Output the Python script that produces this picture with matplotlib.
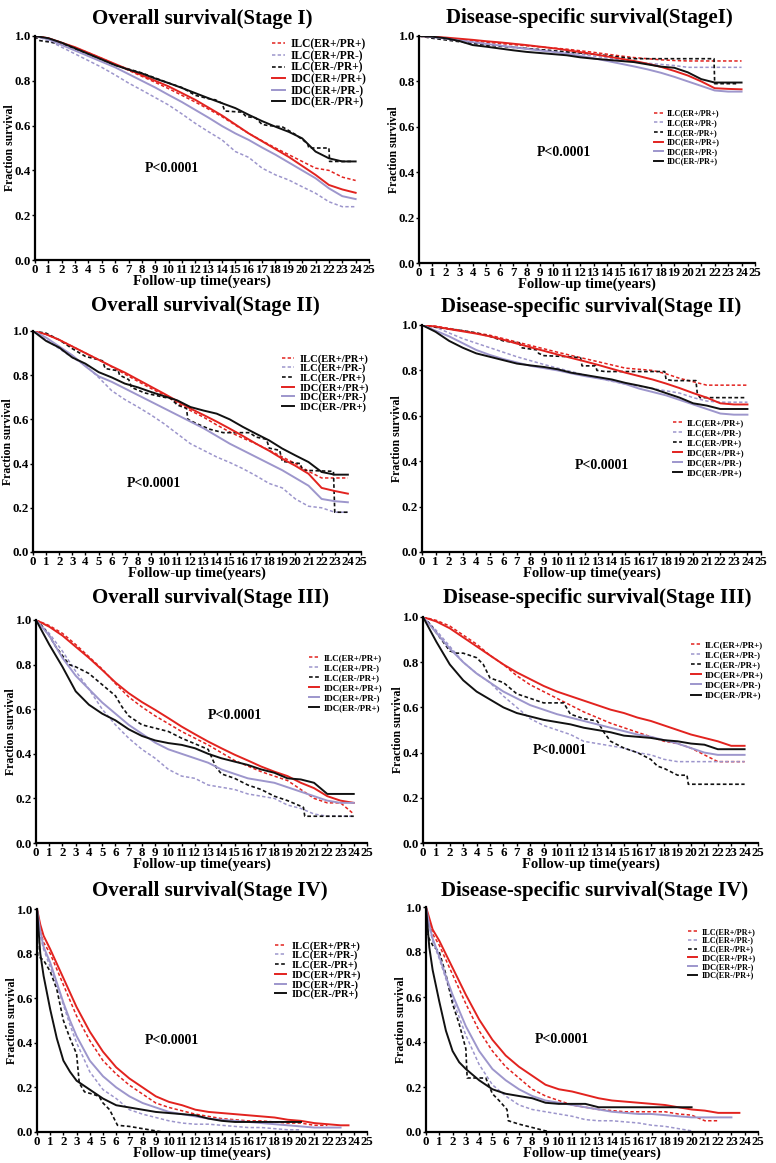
import numpy as np
import matplotlib
matplotlib.use("Agg")
import matplotlib.pyplot as plt

nan = np.nan

# ---- data ----
labels = ["ILC(ER+/PR+)", "ILC(ER+/PR-)", "ILC(ER-/PR+)",
          "IDC(ER+/PR+)", "IDC(ER+/PR-)", "IDC(ER-/PR+)"]
titles = ["Overall survival(Stage I)", "Disease-specific survival(StageI)",
          "Overall survival(Stage II)", "Disease-specific survival(Stage II)",
          "Overall survival(Stage III)", "Disease-specific survival(Stage III)",
          "Overall survival(Stage IV)", "Disease-specific survival(Stage IV)"]
years = list(range(25))
years_iv = [0, 0.25, 0.5, 1, 1.5, 2, 2.5, 3, 4, 5, 6, 7, 8, 9, 10, 11, 12,
            13, 14, 15, 16, 17, 18, 19, 20, 21, 22, 23, 23.6]

# Overall survival, stage I
os1_ilc_pp = [1.0, 0.99, 0.97, 0.948, 0.925, 0.90, 0.873, 0.847, 0.82, 0.793, 0.765, 0.735, 0.705,
              0.673, 0.64, 0.602, 0.565, 0.532, 0.50, 0.47, 0.44, 0.41, 0.40, 0.37, 0.355]
os1_ilc_pn = [1.0, 0.98, 0.95, 0.92, 0.89, 0.86, 0.826, 0.79, 0.758, 0.725, 0.692, 0.652, 0.61,
              0.572, 0.536, 0.484, 0.458, 0.41, 0.38, 0.357, 0.327, 0.298, 0.26, 0.238, 0.238]
os1_ilc_np_t = [0, 0.3, 2, 4, 6, 8, 10, 11, 12, 13, 13.5, 14, 14.2, 15.5, 15.8, 16.5, 17, 17.5,
                18.5, 19.5, 20.4, 20.5, 22, 22.05, 23.8]
os1_ilc_np = [1.0, 0.98, 0.965, 0.92, 0.87, 0.835, 0.79, 0.77, 0.735, 0.72, 0.715, 0.70, 0.665,
              0.66, 0.64, 0.635, 0.605, 0.60, 0.595, 0.56, 0.52, 0.50, 0.50, 0.44, 0.44]
os1_idc_pp = [1.0, 0.99, 0.97, 0.95, 0.925, 0.90, 0.875, 0.85, 0.825, 0.80, 0.775, 0.745, 0.715,
              0.68, 0.645, 0.605, 0.565, 0.53, 0.495, 0.46, 0.42, 0.38, 0.335, 0.315, 0.30]
os1_idc_pn = [1.0, 0.985, 0.96, 0.935, 0.91, 0.885, 0.86, 0.83, 0.80, 0.77, 0.737, 0.705, 0.67,
              0.635, 0.598, 0.565, 0.536, 0.502, 0.47, 0.435, 0.40, 0.365, 0.32, 0.285, 0.272]
os1_idc_np = [1.0, 0.99, 0.97, 0.945, 0.92, 0.895, 0.87, 0.85, 0.833, 0.81, 0.79, 0.768, 0.745,
              0.722, 0.70, 0.678, 0.648, 0.62, 0.595, 0.572, 0.543, 0.484, 0.454, 0.44, 0.44]

# Disease-specific survival, stage I
dss1_ilc_pp = [1.0, 0.997, 0.99, 0.985, 0.978, 0.972, 0.967, 0.962, 0.957, 0.952, 0.947, 0.942,
               0.935, 0.928, 0.92, 0.912, 0.905, 0.90, 0.895, 0.892, 0.89, 0.89, 0.89, 0.89, 0.89]
dss1_ilc_pn = [1.0, 0.995, 0.99, 0.98, 0.973, 0.966, 0.96, 0.953, 0.946, 0.94, 0.935, 0.928, 0.92,
               0.912, 0.903, 0.895, 0.887, 0.88, 0.875, 0.87, 0.862, 0.862, 0.862, 0.862, 0.862]
dss1_ilc_np_t = [0, 1, 3, 5, 7, 9, 11, 13, 14.5, 16, 21.95, 22, 23.6]
dss1_ilc_np = [1.0, 0.99, 0.975, 0.96, 0.95, 0.94, 0.93, 0.92, 0.91, 0.90, 0.90, 0.79, 0.79]
dss1_idc_pp = [1.0, 0.997, 0.993, 0.988, 0.983, 0.977, 0.972, 0.966, 0.96, 0.953, 0.946, 0.938,
               0.929, 0.92, 0.91, 0.90, 0.89, 0.878, 0.864, 0.846, 0.826, 0.80, 0.77, 0.767, 0.765]
dss1_idc_pn = [1.0, 0.995, 0.988, 0.98, 0.973, 0.965, 0.958, 0.95, 0.943, 0.936, 0.93, 0.922,
               0.912, 0.902, 0.89, 0.878, 0.866, 0.853, 0.838, 0.82, 0.80, 0.78, 0.76, 0.755, 0.755]
dss1_idc_np = [1.0, 0.997, 0.99, 0.978, 0.96, 0.953, 0.945, 0.937, 0.93, 0.925, 0.92, 0.915,
               0.906, 0.90, 0.895, 0.89, 0.885, 0.875, 0.865, 0.86, 0.84, 0.81, 0.795, 0.795, 0.795]

# Overall survival, stage II
os2_ilc_pp = [1.0, 0.985, 0.96, 0.93, 0.90, 0.87, 0.838, 0.805, 0.772, 0.74, 0.71, 0.675, 0.64,
              0.61, 0.575, 0.543, 0.515, 0.49, 0.46, 0.43, 0.40, 0.365, 0.335, 0.335, 0.335]
os2_ilc_pn = [1.0, 0.96, 0.92, 0.88, 0.845, 0.79, 0.73, 0.69, 0.656, 0.62, 0.58, 0.535, 0.49,
              0.46, 0.43, 0.405, 0.377, 0.345, 0.31, 0.29, 0.24, 0.207, 0.20, 0.18, 0.18]
os2_ilc_np_t = [0, 1, 2, 3, 4, 5, 5.3, 5.5, 6.5, 6.6, 7.3, 7.5, 8.5, 10, 10.5, 11, 11.7, 11.8,
                12.5, 13.5, 14.5, 16.5, 17, 17.8, 18, 18.8, 19, 20.4, 20.5, 22.9, 23, 24]
os2_ilc_np = [1.0, 0.99, 0.96, 0.92, 0.885, 0.87, 0.865, 0.83, 0.82, 0.80, 0.78, 0.745, 0.72,
              0.70, 0.695, 0.665, 0.65, 0.60, 0.58, 0.555, 0.54, 0.54, 0.52, 0.51, 0.47, 0.46,
              0.41, 0.40, 0.37, 0.365, 0.18, 0.18]
os2_idc_pp = [1.0, 0.985, 0.96, 0.93, 0.90, 0.87, 0.84, 0.812, 0.78, 0.748, 0.716, 0.683, 0.649,
              0.62, 0.59, 0.558, 0.525, 0.49, 0.458, 0.422, 0.39, 0.354, 0.29, 0.276, 0.264]
os2_idc_pn = [1.0, 0.97, 0.93, 0.89, 0.84, 0.795, 0.77, 0.74, 0.71, 0.68, 0.65, 0.62, 0.59,
              0.56, 0.525, 0.49, 0.46, 0.43, 0.40, 0.37, 0.335, 0.30, 0.24, 0.23, 0.225]
os2_idc_np = [1.0, 0.955, 0.925, 0.88, 0.852, 0.814, 0.79, 0.762, 0.745, 0.724, 0.705, 0.686,
              0.656, 0.64, 0.626, 0.60, 0.566, 0.535, 0.505, 0.468, 0.437, 0.407, 0.362, 0.35, 0.35]

# Disease-specific survival, stage II
dss2_ilc_pp = [1.0, 0.995, 0.985, 0.975, 0.965, 0.955, 0.94, 0.925, 0.91, 0.895, 0.88, 0.866,
               0.852, 0.838, 0.824, 0.81, 0.805, 0.80, 0.785, 0.765, 0.75, 0.735, 0.735, 0.735, 0.735]
dss2_ilc_pn = [1.0, 0.99, 0.965, 0.94, 0.92, 0.90, 0.88, 0.86, 0.843, 0.826, 0.81, 0.795, 0.78,
               0.765, 0.752, 0.74, 0.73, 0.72, 0.71, 0.70, 0.68, 0.665, 0.66, 0.66, 0.66]
dss2_ilc_np_t = [0, 1, 3, 4, 5, 6, 7.2, 7.3, 8.5, 8.6, 9, 11, 11.7, 11.8, 12.8, 12.9, 13.5, 17.9,
                 18, 18.5, 20.2, 20.3, 20.5, 23.9]
dss2_ilc_np = [1.0, 0.99, 0.975, 0.965, 0.95, 0.93, 0.92, 0.90, 0.89, 0.875, 0.865, 0.86, 0.855,
               0.82, 0.82, 0.80, 0.795, 0.795, 0.76, 0.755, 0.755, 0.70, 0.68, 0.68]
dss2_idc_pp = [1.0, 0.993, 0.982, 0.972, 0.962, 0.95, 0.935, 0.918, 0.902, 0.886, 0.87, 0.855,
               0.84, 0.824, 0.807, 0.79, 0.775, 0.76, 0.742, 0.722, 0.70, 0.68, 0.655, 0.65, 0.65]
dss2_idc_pn = [1.0, 0.975, 0.95, 0.92, 0.89, 0.868, 0.85, 0.835, 0.82, 0.81, 0.80, 0.787, 0.775,
               0.765, 0.755, 0.74, 0.72, 0.705, 0.69, 0.67, 0.65, 0.63, 0.61, 0.605, 0.605]
dss2_idc_np = [1.0, 0.97, 0.93, 0.90, 0.875, 0.86, 0.845, 0.83, 0.822, 0.815, 0.805, 0.79, 0.78,
               0.77, 0.76, 0.745, 0.733, 0.72, 0.70, 0.68, 0.655, 0.645, 0.63, 0.63, 0.63]

# Overall survival, stage III
os3_ilc_pp = [1.0, 0.975, 0.94, 0.89, 0.835, 0.78, 0.715, 0.655, 0.61, 0.57, 0.535, 0.50, 0.47,
              0.44, 0.405, 0.37, 0.345, 0.32, 0.30, 0.28, 0.24, 0.20, 0.18, 0.18, 0.13]
os3_ilc_pn = [1.0, 0.94, 0.86, 0.77, 0.69, 0.60, 0.53, 0.47, 0.42, 0.38, 0.33, 0.30, 0.29, 0.26,
              0.25, 0.24, 0.22, 0.21, 0.20, 0.17, 0.155, 0.13, 0.12, 0.12, 0.12]
os3_ilc_np_t = [0, 0.5, 1, 1.5, 2, 2.5, 3, 4, 5, 6, 6.5, 7, 8, 9, 10, 11, 12, 13, 13.3, 13.6, 14,
                15, 16, 17, 18, 19, 20.2, 20.3, 24]
os3_ilc_np = [1.0, 0.97, 0.93, 0.88, 0.84, 0.80, 0.79, 0.76, 0.71, 0.66, 0.61, 0.57, 0.53, 0.515,
              0.50, 0.47, 0.445, 0.42, 0.38, 0.34, 0.31, 0.29, 0.26, 0.24, 0.21, 0.19, 0.16, 0.12, 0.12]
os3_idc_pp = [1.0, 0.97, 0.93, 0.88, 0.83, 0.776, 0.72, 0.672, 0.632, 0.597, 0.56, 0.522, 0.488,
              0.455, 0.425, 0.396, 0.37, 0.343, 0.32, 0.30, 0.27, 0.246, 0.21, 0.19, 0.18]
os3_idc_pn = [1.0, 0.93, 0.83, 0.75, 0.69, 0.63, 0.58, 0.53, 0.49, 0.45, 0.42, 0.40, 0.38, 0.36,
              0.33, 0.31, 0.29, 0.28, 0.27, 0.25, 0.23, 0.21, 0.19, 0.18, 0.18]
os3_idc_np = [1.0, 0.89, 0.79, 0.68, 0.62, 0.58, 0.55, 0.51, 0.48, 0.46, 0.448, 0.44, 0.425,
              0.40, 0.38, 0.365, 0.35, 0.33, 0.315, 0.29, 0.285, 0.27, 0.22, 0.22, 0.22]

# Disease-specific survival, stage III
dss3_ilc_pp = [1.0, 0.985, 0.96, 0.92, 0.88, 0.83, 0.79, 0.74, 0.70, 0.67, 0.64, 0.61, 0.58,
               0.555, 0.53, 0.51, 0.49, 0.47, 0.45, 0.44, 0.42, 0.39, 0.36, 0.36, 0.36]
dss3_ilc_pn = [1.0, 0.94, 0.87, 0.80, 0.75, 0.71, 0.65, 0.60, 0.55, 0.52, 0.50, 0.48, 0.45, 0.44,
               0.43, 0.42, 0.40, 0.39, 0.37, 0.36, 0.36, 0.36, 0.36, 0.36, 0.36]
dss3_ilc_np_t = [0, 0.5, 1, 1.5, 2, 2.5, 3, 4, 4.5, 5, 6, 7, 8, 9, 10.5, 11, 12, 13, 13.5, 14,
                 15, 16, 17, 17.5, 18, 19, 19.7, 19.8, 24]
dss3_ilc_np = [1.0, 0.97, 0.93, 0.89, 0.85, 0.84, 0.84, 0.82, 0.79, 0.73, 0.71, 0.66, 0.64, 0.62,
               0.62, 0.57, 0.55, 0.54, 0.49, 0.45, 0.42, 0.40, 0.37, 0.34, 0.33, 0.30, 0.30, 0.26, 0.26]
dss3_idc_pp = [1.0, 0.98, 0.95, 0.91, 0.87, 0.83, 0.79, 0.755, 0.725, 0.695, 0.67, 0.65, 0.63,
               0.61, 0.59, 0.575, 0.555, 0.54, 0.52, 0.50, 0.48, 0.465, 0.45, 0.43, 0.43]
dss3_idc_pn = [1.0, 0.93, 0.86, 0.80, 0.75, 0.71, 0.67, 0.64, 0.61, 0.59, 0.57, 0.555, 0.54,
               0.525, 0.51, 0.495, 0.48, 0.47, 0.455, 0.44, 0.42, 0.40, 0.39, 0.39, 0.39]
dss3_idc_np = [1.0, 0.89, 0.79, 0.72, 0.67, 0.635, 0.60, 0.575, 0.56, 0.545, 0.535, 0.525, 0.51,
               0.50, 0.49, 0.475, 0.47, 0.465, 0.455, 0.45, 0.44, 0.435, 0.415, 0.415, 0.415]

# Overall survival, stage IV (on years_iv)
os4_ilc_pp = [1.0, 0.90, 0.85, 0.80, 0.73, 0.66, 0.59, 0.52, 0.41, 0.32, 0.26, 0.21, 0.17, 0.13,
              0.11, 0.095, 0.08, 0.07, 0.06, 0.055, 0.05, 0.05, 0.045, 0.04, 0.04, 0.03, 0.03, nan, nan]
os4_ilc_pn = [1.0, 0.88, 0.82, 0.74, 0.66, 0.57, 0.48, 0.40, 0.27, 0.19, 0.15, 0.10, 0.08, 0.065,
              0.05, 0.04, 0.035, 0.035, 0.03, 0.025, 0.02, 0.02, 0.015, 0.01, 0.01, nan, nan, nan, nan]
os4_ilc_np_t = [0, 0.05, 0.5, 1, 1.5, 2, 2.5, 3, 3.2, 3.6, 4.2, 4.7, 5, 5.5, 6.1, 7, 8, 9, 9.5]
os4_ilc_np = [1.0, 0.79, 0.77, 0.72, 0.64, 0.50, 0.42, 0.35, 0.22, 0.18, 0.17, 0.16, 0.13, 0.10,
              0.03, 0.025, 0.015, 0.005, 0.0]
os4_idc_pp = [1.0, 0.93, 0.88, 0.82, 0.755, 0.69, 0.625, 0.56, 0.45, 0.36, 0.29, 0.24, 0.20, 0.16,
              0.135, 0.12, 0.10, 0.09, 0.085, 0.08, 0.075, 0.07, 0.065, 0.055, 0.05, 0.04, 0.035, 0.03, 0.03]
os4_idc_pn = [1.0, 0.90, 0.83, 0.76, 0.67, 0.58, 0.50, 0.43, 0.32, 0.25, 0.20, 0.16, 0.13, 0.11,
              0.09, 0.08, 0.07, 0.06, 0.055, 0.05, 0.045, 0.04, 0.035, 0.03, 0.025, 0.02, 0.02, 0.02, nan]
os4_idc_np = [1.0, 0.80, 0.70, 0.55, 0.42, 0.32, 0.27, 0.23, 0.19, 0.15, 0.12, 0.11, 0.10, 0.09,
              0.085, 0.08, 0.075, 0.06, 0.05, 0.045, 0.045, 0.045, 0.045, 0.045, 0.045, nan, nan, nan, nan]

# Disease-specific survival, stage IV (on years_iv)
dss4_ilc_pp = [1.0, 0.93, 0.88, 0.83, 0.765, 0.70, 0.635, 0.57, 0.45, 0.36, 0.29, 0.24, 0.19, 0.16,
               0.14, 0.12, 0.11, 0.10, 0.095, 0.09, 0.09, 0.09, 0.09, 0.08, 0.075, 0.05, 0.05, nan, nan]
dss4_ilc_pn = [1.0, 0.91, 0.85, 0.77, 0.68, 0.59, 0.51, 0.43, 0.30, 0.21, 0.16, 0.12, 0.10, 0.09,
               0.08, 0.07, 0.055, 0.05, 0.05, 0.045, 0.04, 0.03, 0.025, 0.015, 0.005, nan, nan, nan, nan]
dss4_ilc_np_t = [0, 0.05, 0.5, 1, 1.5, 2, 2.5, 3, 3.1, 4.5, 5, 5.5, 6.1, 6.2, 7, 8, 9, 9.3]
dss4_ilc_np = [1.0, 0.88, 0.83, 0.80, 0.70, 0.57, 0.48, 0.37, 0.24, 0.24, 0.17, 0.14, 0.10, 0.05,
               0.035, 0.02, 0.005, 0.0]
dss4_idc_pp = [1.0, 0.95, 0.90, 0.85, 0.79, 0.73, 0.67, 0.61, 0.50, 0.41, 0.34, 0.29, 0.25, 0.21,
               0.19, 0.18, 0.165, 0.15, 0.14, 0.135, 0.13, 0.125, 0.12, 0.11, 0.10, 0.095, 0.085, 0.085, 0.085]
dss4_idc_pn = [1.0, 0.92, 0.86, 0.78, 0.69, 0.61, 0.54, 0.47, 0.36, 0.28, 0.23, 0.19, 0.16, 0.14,
               0.13, 0.12, 0.11, 0.10, 0.09, 0.085, 0.08, 0.08, 0.075, 0.07, 0.065, 0.065, 0.065, 0.065, nan]
dss4_idc_np = [1.0, 0.82, 0.72, 0.58, 0.45, 0.36, 0.31, 0.28, 0.23, 0.19, 0.17, 0.16, 0.15, 0.13,
               0.125, 0.125, 0.125, 0.11, 0.11, 0.11, 0.11, 0.11, 0.11, 0.11, 0.11, nan, nan, nan, nan]

panel_data = [
    (years, [os1_ilc_pp, os1_ilc_pn, (os1_ilc_np_t, os1_ilc_np), os1_idc_pp, os1_idc_pn, os1_idc_np]),
    (years, [dss1_ilc_pp, dss1_ilc_pn, (dss1_ilc_np_t, dss1_ilc_np), dss1_idc_pp, dss1_idc_pn, dss1_idc_np]),
    (years, [os2_ilc_pp, os2_ilc_pn, (os2_ilc_np_t, os2_ilc_np), os2_idc_pp, os2_idc_pn, os2_idc_np]),
    (years, [dss2_ilc_pp, dss2_ilc_pn, (dss2_ilc_np_t, dss2_ilc_np), dss2_idc_pp, dss2_idc_pn, dss2_idc_np]),
    (years, [os3_ilc_pp, os3_ilc_pn, (os3_ilc_np_t, os3_ilc_np), os3_idc_pp, os3_idc_pn, os3_idc_np]),
    (years, [dss3_ilc_pp, dss3_ilc_pn, (dss3_ilc_np_t, dss3_ilc_np), dss3_idc_pp, dss3_idc_pn, dss3_idc_np]),
    (years_iv, [os4_ilc_pp, os4_ilc_pn, (os4_ilc_np_t, os4_ilc_np), os4_idc_pp, os4_idc_pn, os4_idc_np]),
    (years_iv, [dss4_ilc_pp, dss4_ilc_pn, (dss4_ilc_np_t, dss4_ilc_np), dss4_idc_pp, dss4_idc_pn, dss4_idc_np]),
]

# ---- layout (pixels in the 776x1163 canvas) ----
W, H = 776, 1163
boxes = [(35, 36, 369, 260), (419, 36, 755, 263),
         (33, 331, 361, 552), (422, 325, 761, 552),
         (36, 620, 367, 843), (423, 617, 758, 843),
         (37, 909, 367, 1132), (426, 907, 758, 1132)]
# legend anchor (axes fraction), font size, label spacing
legend_pos = [(0.71, 0.99, 8.3, -0.03), (0.70, 0.676, 5.8, 0.2),
              (0.76, 0.896, 7.6, 0.0), (0.74, 0.586, 6.3, 0.21),
              (0.826, 0.848, 6.4, 0.2), (0.80, 0.894, 6.4, 0.21),
              (0.72, 0.857, 7.6, 0.01), (0.79, 0.907, 5.9, 0.09)]
p_pos = [(0.41, 0.41), (0.43, 0.485), (0.37, 0.31), (0.53, 0.38),
         (0.60, 0.57), (0.41, 0.41), (0.41, 0.41), (0.41, 0.41)]
title_pad = [12, 13, 20, 13, 17, 14, 13, 11]
title_shift = [0, 2, 8, 0, 9, 7, 8, 3]

RED = "#e2231f"
PURPLE = "#9d96cc"
BLACK = "#111111"
styles = [(RED, True), (PURPLE, True), (BLACK, True),
          (RED, False), (PURPLE, False), (BLACK, False)]

plt.rcParams["font.family"] = ["Liberation Serif", "DejaVu Serif"]
plt.rcParams["font.weight"] = "bold"

fig = plt.figure(figsize=(W / 100, H / 100), dpi=100)

for i, (box, (t, series)) in enumerate(zip(boxes, panel_data)):
    l, tp, r, b = box
    ax = fig.add_axes([l / W, 1 - b / H, (r - l) / W, (b - tp) / H])
    for (col, dashed), lab, s in zip(styles, labels, series):
        if isinstance(s, tuple):
            ax.plot(s[0], s[1], color=col, lw=1.2, dashes=(2.2, 1.5), label=lab)
        elif dashed:
            ax.plot(t, s, color=col, lw=1.1, dashes=(2.2, 1.5), label=lab)
        else:
            ax.plot(t, s, color=col, lw=1.4, label=lab)

    ax.set_xlim(0, 25)
    ax.set_ylim(0, 1.0)
    ax.set_xticks(range(26))
    ax.set_yticks([0, 0.2, 0.4, 0.6, 0.8, 1.0])
    ax.set_yticklabels(["0.0", "0.2", "0.4", "0.6", "0.8", "1.0"])
    ax.tick_params(axis="both", labelsize=9.3, length=2.5, width=1, pad=0.5)
    for lbl in ax.get_xticklabels() + ax.get_yticklabels():
        lbl.set_fontweight("bold")
    for sp in ["top", "right"]:
        ax.spines[sp].set_visible(False)
    for sp in ["left", "bottom"]:
        ax.spines[sp].set_linewidth(1.6)

    ax.set_title(titles[i], fontsize=15, fontweight="bold", pad=title_pad[i] * 0.72,
                 x=0.5 + title_shift[i] / (r - l))
    ax.set_xlabel("Follow-up time(years)", fontsize=10.5, fontweight="bold")
    ax.xaxis.set_label_coords(0.5, -15 / (b - tp))
    ax.set_ylabel("Fraction survival", fontsize=8.5, fontweight="bold")
    ax.yaxis.set_label_coords(-19 / (r - l), 0.5)

    lx, ly, fs, ls = legend_pos[i]
    ax.legend(loc="upper left", bbox_to_anchor=(lx, ly), frameon=False,
              prop={"size": fs, "weight": "bold"}, handlelength=1.1,
              handletextpad=0.5, labelspacing=ls, borderpad=0,
              borderaxespad=0)

    px, py = p_pos[i]
    ax.text(px, py, "P<0.0001", transform=ax.transAxes, ha="center", va="center",
            fontsize=10, fontweight="bold")

fig.savefig("out.png", dpi=100)
